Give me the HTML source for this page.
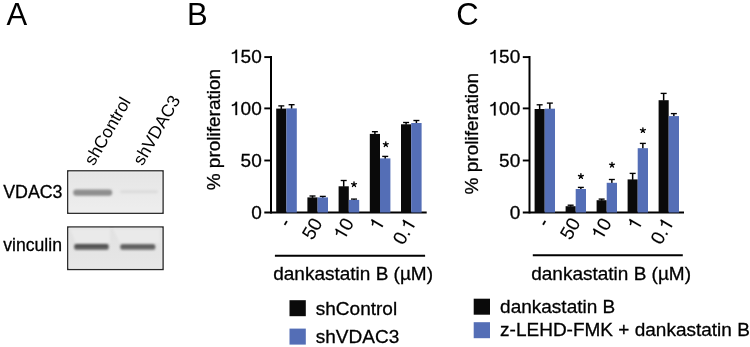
<!DOCTYPE html>
<html><head><meta charset="utf-8"><style>
html,body{margin:0;padding:0;background:#fff;}
body{width:750px;height:347px;overflow:hidden;}
svg{display:block;font-family:"Liberation Sans", sans-serif;will-change:transform;}
text{fill:#000;stroke:#000;stroke-width:0.3px;}
.ns text{stroke-width:0.12px;}
.ns path{stroke-width:0.0063;}
</style></head><body>
<svg width="750" height="347" viewBox="0 0 750 347">
<text x="6.6" y="25.4" font-size="31" style="stroke:none">A</text>
<text x="186.9" y="25.4" font-size="31" style="stroke:none">B</text>
<text x="456.2" y="25.4" font-size="31" style="stroke:none">C</text>
<defs><filter id="blur1" x="-20%" y="-100%" width="140%" height="300%"><feGaussianBlur stdDeviation="1.3 1.2"/></filter><filter id="blur2" x="-20%" y="-100%" width="140%" height="300%"><feGaussianBlur stdDeviation="1.0 0.9"/></filter><linearGradient id="bandg" x1="0" y1="0" x2="0" y2="1"><stop offset="0" stop-color="#4a4a4a"/><stop offset="0.5" stop-color="#555"/><stop offset="1" stop-color="#7c7c7c"/></linearGradient><linearGradient id="bandg2" x1="0" y1="0" x2="0" y2="1"><stop offset="0" stop-color="#555"/><stop offset="0.5" stop-color="#5e5e5e"/><stop offset="1" stop-color="#858585"/></linearGradient><linearGradient id="bg1" x1="0" y1="0" x2="0" y2="1"><stop offset="0" stop-color="#e5e5e5"/><stop offset="1" stop-color="#eeeeee"/></linearGradient><linearGradient id="bg2" x1="0" y1="0" x2="0" y2="1"><stop offset="0" stop-color="#e1e1e1"/><stop offset="1" stop-color="#e7e7e7"/></linearGradient></defs>
<rect x="67.8" y="170.9" width="95.2" height="42.3" fill="url(#bg1)" stroke="#262626" stroke-width="1.5"/>
<rect x="68.9" y="172" width="93" height="40.1" fill="none" stroke="#f1f1f1" stroke-width="0.8"/>
<rect x="73.2" y="189.6" width="39" height="6.2" rx="3" fill="#8e8e8e" filter="url(#blur1)"/>
<rect x="120" y="190.2" width="38" height="3" rx="1.4" fill="#dcdcdc" filter="url(#blur1)"/>
<rect x="67.8" y="227.05" width="95.2" height="42.4" fill="url(#bg2)" stroke="#262626" stroke-width="1.5"/>
<rect x="68.9" y="228.1" width="93" height="40.3" fill="none" stroke="#ececec" stroke-width="0.8"/>
<path d="M70,229 L110,229 L110,243 L76,243 Z M113,229 L160,229 L160,243 L120,243 Z" fill="#eaeaea" filter="url(#blur2)"/>
<rect x="74.2" y="244" width="34.5" height="6" rx="2" fill="url(#bandg)" filter="url(#blur2)"/>
<rect x="120.3" y="244.3" width="35" height="5.6" rx="2" fill="url(#bandg2)" filter="url(#blur2)"/>
<text x="3.2" y="197.7" font-size="17.8">VDAC3</text>
<text x="3.3" y="250.6" font-size="17.6">vinculin</text>
<text transform="translate(93.8,166.4) rotate(-60)" font-size="17.5" style="stroke:none">shControl</text>
<text transform="translate(142.5,166.4) rotate(-60)" font-size="17.5" style="stroke:none">shVDAC3</text>
<line x1="271" y1="56" x2="271" y2="213.4" stroke="#000" stroke-width="2"/>
<line x1="264.3" y1="57.1" x2="271" y2="57.1" stroke="#000" stroke-width="1.9"/>
<line x1="264.3" y1="108.4" x2="271" y2="108.4" stroke="#000" stroke-width="1.9"/>
<line x1="264.3" y1="160.5" x2="271" y2="160.5" stroke="#000" stroke-width="1.9"/>
<line x1="264.3" y1="212.5" x2="426.7" y2="212.5" stroke="#000" stroke-width="1.9"/>
<g transform="translate(261.7,63.0) scale(1,1.0)"><path transform="translate(-31.69,0) scale(19,-19)" d="M0.372,0 L0.372,0.700 L0.300,0.700 C0.275,0.615 0.220,0.560 0.100,0.545 L0.100,0.478 C0.180,0.485 0.245,0.505 0.286,0.545 L0.286,0 Z" stroke="#000" stroke-width="0.0158"/><text x="-21.13" y="0" font-size="19">5</text><text x="-10.56" y="0" font-size="19">0</text></g>
<g transform="translate(261.7,115.1) scale(1,1.0)"><path transform="translate(-31.69,0) scale(19,-19)" d="M0.372,0 L0.372,0.700 L0.300,0.700 C0.275,0.615 0.220,0.560 0.100,0.545 L0.100,0.478 C0.180,0.485 0.245,0.505 0.286,0.545 L0.286,0 Z" stroke="#000" stroke-width="0.0158"/><text x="-21.13" y="0" font-size="19">0</text><text x="-10.56" y="0" font-size="19">0</text></g>
<g transform="translate(261.7,167.1) scale(1,1.0)"><text x="-21.13" y="0" font-size="19">5</text><text x="-10.56" y="0" font-size="19">0</text></g>
<g transform="translate(261.7,219.0) scale(1,1.0)"><text x="-10.56" y="0" font-size="19">0</text></g>
<text transform="translate(220.0,190.3) rotate(-90)" font-size="19">% proliferation</text>
<line x1="281.30" y1="109.1" x2="281.30" y2="105.8" stroke="#000" stroke-width="1.5"/>
<line x1="278.30" y1="105.90" x2="284.30" y2="105.90" stroke="#000" stroke-width="1.35"/>
<line x1="291.60" y1="108.9" x2="291.60" y2="104.6" stroke="#000" stroke-width="1.5"/>
<line x1="288.60" y1="104.70" x2="294.60" y2="104.70" stroke="#000" stroke-width="1.35"/>
<rect x="276.20" y="108.6" width="10.2" height="103.90" fill="#0a0a0a"/>
<rect x="286.40" y="108.4" width="10.4" height="104.10" fill="#546eb6"/>
<line x1="312.50" y1="197.9" x2="312.50" y2="195.9" stroke="#000" stroke-width="1.5"/>
<line x1="309.50" y1="196.00" x2="315.50" y2="196.00" stroke="#000" stroke-width="1.35"/>
<line x1="322.80" y1="197.9" x2="322.80" y2="196.3" stroke="#000" stroke-width="1.5"/>
<line x1="319.80" y1="196.40" x2="325.80" y2="196.40" stroke="#000" stroke-width="1.35"/>
<rect x="307.40" y="197.4" width="10.2" height="15.10" fill="#0a0a0a"/>
<rect x="317.60" y="197.4" width="10.4" height="15.10" fill="#546eb6"/>
<line x1="343.70" y1="186.8" x2="343.70" y2="180.4" stroke="#000" stroke-width="1.5"/>
<line x1="340.70" y1="180.50" x2="346.70" y2="180.50" stroke="#000" stroke-width="1.35"/>
<line x1="354.00" y1="200.4" x2="354.00" y2="199.0" stroke="#000" stroke-width="1.5"/>
<line x1="351.00" y1="199.10" x2="357.00" y2="199.10" stroke="#000" stroke-width="1.35"/>
<rect x="338.60" y="186.3" width="10.2" height="26.20" fill="#0a0a0a"/>
<rect x="348.80" y="199.9" width="10.4" height="12.60" fill="#546eb6"/>
<line x1="374.90" y1="134.4" x2="374.90" y2="131.6" stroke="#000" stroke-width="1.5"/>
<line x1="371.90" y1="131.70" x2="377.90" y2="131.70" stroke="#000" stroke-width="1.35"/>
<line x1="385.20" y1="158.9" x2="385.20" y2="156.3" stroke="#000" stroke-width="1.5"/>
<line x1="382.20" y1="156.40" x2="388.20" y2="156.40" stroke="#000" stroke-width="1.35"/>
<rect x="369.80" y="133.9" width="10.2" height="78.60" fill="#0a0a0a"/>
<rect x="380.00" y="158.4" width="10.4" height="54.10" fill="#546eb6"/>
<line x1="406.10" y1="124.8" x2="406.10" y2="122.4" stroke="#000" stroke-width="1.5"/>
<line x1="403.10" y1="122.50" x2="409.10" y2="122.50" stroke="#000" stroke-width="1.35"/>
<line x1="416.40" y1="123.5" x2="416.40" y2="120.4" stroke="#000" stroke-width="1.5"/>
<line x1="413.40" y1="120.50" x2="419.40" y2="120.50" stroke="#000" stroke-width="1.35"/>
<rect x="401.00" y="124.3" width="10.2" height="88.20" fill="#0a0a0a"/>
<rect x="411.20" y="123.0" width="10.4" height="89.50" fill="#546eb6"/>
<path d="M354.00,184.40 L354.00,181.85 M354.00,184.40 L356.43,183.61 M354.00,184.40 L355.50,186.46 M354.00,184.40 L352.50,186.46 M354.00,184.40 L351.57,183.61" stroke="#000" stroke-width="1.35" stroke-linecap="round" fill="none"/>
<path d="M385.80,144.40 L385.80,141.85 M385.80,144.40 L388.23,143.61 M385.80,144.40 L387.30,146.46 M385.80,144.40 L384.30,146.46 M385.80,144.40 L383.37,143.61" stroke="#000" stroke-width="1.35" stroke-linecap="round" fill="none"/>
<g class="ns"><g transform="matrix(0.5000,-0.8660,0.8660,0.5000,291.8,223.1)"><path transform="translate(-6.33,0) scale(19,-19)" d="M0.062,0.232 L0.296,0.232 L0.296,0.322 L0.062,0.322 Z" stroke="#000" stroke-width="0.0158"/></g></g>
<g class="ns"><g transform="matrix(0.5000,-0.8660,0.8660,0.5000,323,222.8)"><text x="-21.13" y="0" font-size="19">5</text><text x="-10.56" y="0" font-size="19">0</text></g></g>
<g class="ns"><g transform="matrix(0.5000,-0.8660,0.8660,0.5000,354.4,222.9)"><path transform="translate(-21.13,0) scale(19,-19)" d="M0.372,0 L0.372,0.700 L0.300,0.700 C0.275,0.615 0.220,0.560 0.100,0.545 L0.100,0.478 C0.180,0.485 0.245,0.505 0.286,0.545 L0.286,0 Z" stroke="#000" stroke-width="0.0158"/><text x="-10.56" y="0" font-size="19">0</text></g></g>
<g class="ns"><g transform="matrix(0.5000,-0.8660,0.8660,0.5000,385,222.7)"><path transform="translate(-10.56,0) scale(19,-19)" d="M0.372,0 L0.372,0.700 L0.300,0.700 C0.275,0.615 0.220,0.560 0.100,0.545 L0.100,0.478 C0.180,0.485 0.245,0.505 0.286,0.545 L0.286,0 Z" stroke="#000" stroke-width="0.0158"/></g></g>
<g class="ns"><g transform="matrix(0.5000,-0.8660,0.8660,0.5000,416.5,223.2)"><text x="-26.41" y="0" font-size="19">0</text><text x="-15.85" y="0" font-size="19">.</text><path transform="translate(-10.56,0) scale(19,-19)" d="M0.372,0 L0.372,0.700 L0.300,0.700 C0.275,0.615 0.220,0.560 0.100,0.545 L0.100,0.478 C0.180,0.485 0.245,0.505 0.286,0.545 L0.286,0 Z" stroke="#000" stroke-width="0.0158"/></g></g>
<line x1="274.9" y1="255.8" x2="425.1" y2="255.8" stroke="#000" stroke-width="2"/>
<text x="273.2" y="280.2" font-size="19">dankastatin B (µM)</text>
<rect x="289.5" y="300.2" width="16.3" height="16" fill="#0a0a0a"/>
<rect x="289.5" y="328.6" width="16.3" height="16" fill="#546eb6"/>
<text x="315.8" y="315.2" font-size="19">shControl</text>
<text x="315.8" y="343.2" font-size="19">shVDAC3</text>
<line x1="529.5" y1="56" x2="529.5" y2="213.4" stroke="#000" stroke-width="2"/>
<line x1="522.8" y1="57.1" x2="529.5" y2="57.1" stroke="#000" stroke-width="1.9"/>
<line x1="522.8" y1="108.4" x2="529.5" y2="108.4" stroke="#000" stroke-width="1.9"/>
<line x1="522.8" y1="160.5" x2="529.5" y2="160.5" stroke="#000" stroke-width="1.9"/>
<line x1="522.8" y1="212.5" x2="684" y2="212.5" stroke="#000" stroke-width="1.9"/>
<g transform="translate(520.2,63.3) scale(1,1.0)"><path transform="translate(-31.69,0) scale(19,-19)" d="M0.372,0 L0.372,0.700 L0.300,0.700 C0.275,0.615 0.220,0.560 0.100,0.545 L0.100,0.478 C0.180,0.485 0.245,0.505 0.286,0.545 L0.286,0 Z" stroke="#000" stroke-width="0.0158"/><text x="-21.13" y="0" font-size="19">5</text><text x="-10.56" y="0" font-size="19">0</text></g>
<g transform="translate(520.2,115.39999999999999) scale(1,1.0)"><path transform="translate(-31.69,0) scale(19,-19)" d="M0.372,0 L0.372,0.700 L0.300,0.700 C0.275,0.615 0.220,0.560 0.100,0.545 L0.100,0.478 C0.180,0.485 0.245,0.505 0.286,0.545 L0.286,0 Z" stroke="#000" stroke-width="0.0158"/><text x="-21.13" y="0" font-size="19">0</text><text x="-10.56" y="0" font-size="19">0</text></g>
<g transform="translate(520.2,167.4) scale(1,1.0)"><text x="-21.13" y="0" font-size="19">5</text><text x="-10.56" y="0" font-size="19">0</text></g>
<g transform="translate(520.2,219.3) scale(1,1.0)"><text x="-10.56" y="0" font-size="19">0</text></g>
<text transform="translate(478.4,194.4) rotate(-90)" font-size="19">% proliferation</text>
<line x1="539.65" y1="109.5" x2="539.65" y2="104.7" stroke="#000" stroke-width="1.5"/>
<line x1="536.65" y1="104.80" x2="542.65" y2="104.80" stroke="#000" stroke-width="1.35"/>
<line x1="549.85" y1="109.2" x2="549.85" y2="103.0" stroke="#000" stroke-width="1.5"/>
<line x1="546.85" y1="103.10" x2="552.85" y2="103.10" stroke="#000" stroke-width="1.35"/>
<rect x="534.60" y="109.0" width="10.1" height="103.50" fill="#0a0a0a"/>
<rect x="544.70" y="108.7" width="10.3" height="103.80" fill="#546eb6"/>
<line x1="570.65" y1="206.7" x2="570.65" y2="205.1" stroke="#000" stroke-width="1.5"/>
<line x1="567.65" y1="205.20" x2="573.65" y2="205.20" stroke="#000" stroke-width="1.35"/>
<line x1="580.85" y1="189.5" x2="580.85" y2="187.3" stroke="#000" stroke-width="1.5"/>
<line x1="577.85" y1="187.40" x2="583.85" y2="187.40" stroke="#000" stroke-width="1.35"/>
<rect x="565.60" y="206.2" width="10.1" height="6.30" fill="#0a0a0a"/>
<rect x="575.70" y="189.0" width="10.3" height="23.50" fill="#546eb6"/>
<line x1="601.65" y1="200.7" x2="601.65" y2="199.0" stroke="#000" stroke-width="1.5"/>
<line x1="598.65" y1="199.10" x2="604.65" y2="199.10" stroke="#000" stroke-width="1.35"/>
<line x1="611.85" y1="183.3" x2="611.85" y2="179.4" stroke="#000" stroke-width="1.5"/>
<line x1="608.85" y1="179.50" x2="614.85" y2="179.50" stroke="#000" stroke-width="1.35"/>
<rect x="596.60" y="200.2" width="10.1" height="12.30" fill="#0a0a0a"/>
<rect x="606.70" y="182.8" width="10.3" height="29.70" fill="#546eb6"/>
<line x1="632.65" y1="179.9" x2="632.65" y2="173.3" stroke="#000" stroke-width="1.5"/>
<line x1="629.65" y1="173.40" x2="635.65" y2="173.40" stroke="#000" stroke-width="1.35"/>
<line x1="642.85" y1="148.7" x2="642.85" y2="143.3" stroke="#000" stroke-width="1.5"/>
<line x1="639.85" y1="143.40" x2="645.85" y2="143.40" stroke="#000" stroke-width="1.35"/>
<rect x="627.60" y="179.4" width="10.1" height="33.10" fill="#0a0a0a"/>
<rect x="637.70" y="148.2" width="10.3" height="64.30" fill="#546eb6"/>
<line x1="663.65" y1="100.7" x2="663.65" y2="93.3" stroke="#000" stroke-width="1.5"/>
<line x1="660.65" y1="93.40" x2="666.65" y2="93.40" stroke="#000" stroke-width="1.35"/>
<line x1="673.85" y1="116.6" x2="673.85" y2="113.5" stroke="#000" stroke-width="1.5"/>
<line x1="670.85" y1="113.60" x2="676.85" y2="113.60" stroke="#000" stroke-width="1.35"/>
<rect x="658.60" y="100.2" width="10.1" height="112.30" fill="#0a0a0a"/>
<rect x="668.70" y="116.1" width="10.3" height="96.40" fill="#546eb6"/>
<path d="M580.90,176.30 L580.90,173.75 M580.90,176.30 L583.33,175.51 M580.90,176.30 L582.40,178.36 M580.90,176.30 L579.40,178.36 M580.90,176.30 L578.47,175.51" stroke="#000" stroke-width="1.35" stroke-linecap="round" fill="none"/>
<path d="M612.00,165.00 L612.00,162.45 M612.00,165.00 L614.43,164.21 M612.00,165.00 L613.50,167.06 M612.00,165.00 L610.50,167.06 M612.00,165.00 L609.57,164.21" stroke="#000" stroke-width="1.35" stroke-linecap="round" fill="none"/>
<path d="M642.90,130.35 L642.90,127.80 M642.90,130.35 L645.33,129.56 M642.90,130.35 L644.40,132.41 M642.90,130.35 L641.40,132.41 M642.90,130.35 L640.47,129.56" stroke="#000" stroke-width="1.35" stroke-linecap="round" fill="none"/>
<g class="ns"><g transform="matrix(0.5000,-0.8660,0.8660,0.5000,550.2,222.9)"><path transform="translate(-6.33,0) scale(19,-19)" d="M0.062,0.232 L0.296,0.232 L0.296,0.322 L0.062,0.322 Z" stroke="#000" stroke-width="0.0158"/></g></g>
<g class="ns"><g transform="matrix(0.5000,-0.8660,0.8660,0.5000,581,222.6)"><text x="-21.13" y="0" font-size="19">5</text><text x="-10.56" y="0" font-size="19">0</text></g></g>
<g class="ns"><g transform="matrix(0.5000,-0.8660,0.8660,0.5000,612.2,222.8)"><path transform="translate(-21.13,0) scale(19,-19)" d="M0.372,0 L0.372,0.700 L0.300,0.700 C0.275,0.615 0.220,0.560 0.100,0.545 L0.100,0.478 C0.180,0.485 0.245,0.505 0.286,0.545 L0.286,0 Z" stroke="#000" stroke-width="0.0158"/><text x="-10.56" y="0" font-size="19">0</text></g></g>
<g class="ns"><g transform="matrix(0.5000,-0.8660,0.8660,0.5000,643,222.4)"><path transform="translate(-10.56,0) scale(19,-19)" d="M0.372,0 L0.372,0.700 L0.300,0.700 C0.275,0.615 0.220,0.560 0.100,0.545 L0.100,0.478 C0.180,0.485 0.245,0.505 0.286,0.545 L0.286,0 Z" stroke="#000" stroke-width="0.0158"/></g></g>
<g class="ns"><g transform="matrix(0.5000,-0.8660,0.8660,0.5000,674.2,223)"><text x="-26.41" y="0" font-size="19">0</text><text x="-15.85" y="0" font-size="19">.</text><path transform="translate(-10.56,0) scale(19,-19)" d="M0.372,0 L0.372,0.700 L0.300,0.700 C0.275,0.615 0.220,0.560 0.100,0.545 L0.100,0.478 C0.180,0.485 0.245,0.505 0.286,0.545 L0.286,0 Z" stroke="#000" stroke-width="0.0158"/></g></g>
<line x1="532.8" y1="255.3" x2="682.8" y2="255.3" stroke="#000" stroke-width="2"/>
<text x="531.2" y="279.5" font-size="19">dankastatin B (µM)</text>
<rect x="473.7" y="298.7" width="16.3" height="16" fill="#0a0a0a"/>
<rect x="473.7" y="322.2" width="16.3" height="16" fill="#546eb6"/>
<text x="500.1" y="312.8" font-size="19">dankastatin B</text>
<text x="500.1" y="336.2" font-size="19">z-LEHD-FMK + dankastatin B</text>
</svg>
</body></html>
